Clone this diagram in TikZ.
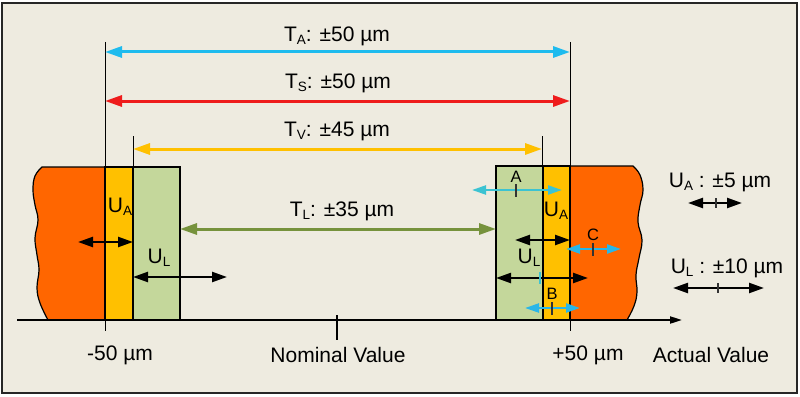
\documentclass[tikz,border=0pt]{standalone}
\usepackage{fontspec}
\setmainfont{Liberation Sans}
\usetikzlibrary{arrows.meta}
\definecolor{bg}{HTML}{EEEBE0}
\definecolor{orng}{HTML}{FF6600}
\definecolor{yel}{HTML}{FFC000}
\definecolor{lgreen}{HTML}{C4D79B}
\definecolor{cyanA}{HTML}{1EBBEE}
\definecolor{redS}{HTML}{EE1C1C}
\definecolor{greenL}{HTML}{76923C}
\definecolor{tealA}{HTML}{3CC3D2}
\definecolor{cyanB}{HTML}{29B6E8}
\newcommand\lbl[2]{#1\raisebox{-0.3ex}{\fontsize{13.5}{14}\selectfont #2}}
\begin{document}
\begin{tikzpicture}[x=1pt,y=-1pt,
  txt/.style={font=\fontsize{21}{25}\selectfont, inner sep=0pt},
  small/.style={font=\fontsize{16.5}{18}\selectfont, inner sep=0pt},
  tol/.style={line width=3pt, {Triangle[length=17pt,width=11pt]}-{Triangle[length=17pt,width=11pt]}},
  unc/.style={line width=2.3pt, {Triangle[length=15pt,width=10pt]}-{Triangle[length=15pt,width=10pt]}},
  dev/.style={line width=2.3pt, {Triangle[length=14pt,width=9pt]}-{Triangle[length=14pt,width=9pt]}},
  blk/.style={draw=black, line width=1.2pt},
  vline/.style={draw=black, line width=1pt},
  tick/.style={draw=black!80, line width=1.2pt}]
\useasboundingbox (0,0) rectangle (800,396);
\fill[white] (0,0) rectangle (800,396);
\draw[fill=bg, line width=1.5pt, draw=black!85] (2,3) rectangle (797,393);

% left block
\path[blk, fill=orng] (105,167) -- (42,167) -- plot[smooth, tension=0.7] coordinates {(42,167) (35,176) (33,190) (35,205) (38,220) (35,238) (37,255) (39,270) (37,288) (40,303) (48,320)} -- (105,320) -- cycle;
\path[blk, fill=yel] (105,167) rectangle (133,320);
\path[blk, fill=lgreen] (133,167) rectangle (180,320);

% right block
\path[blk, fill=orng] (570,166) -- (633,166) -- plot[smooth, tension=0.7] coordinates {(633,166) (640,175) (643,190) (640,205) (638,222) (642,240) (639,258) (636,275) (637,292) (634,306) (627,320)} -- (570,320) -- cycle;
\path[blk, fill=lgreen] (496,166) rectangle (543,320);
\path[blk, fill=yel] (543,166) rectangle (570,320);

% axis
\coordinate (ax0) at (17,320);
\coordinate (ax1) at (682,320);
\draw[line width=2pt, -{Triangle[length=12pt,width=7pt]}] (ax0) -- (ax1);
\draw[line width=2pt] (337,315) -- (337,340);

% vertical reference lines
\draw[vline] (105,42) -- (105,331);
\draw[vline] (570,42) -- (570,331);
\draw[vline] (133,136) -- (133,320);
\draw[vline] (542,136) -- (542,320);

% tolerance arrows
\coordinate (taL) at (105,52);  \coordinate (taR) at (570,52);
\coordinate (tsL) at (105,101); \coordinate (tsR) at (570,101);
\coordinate (tvL) at (133,149); \coordinate (tvR) at (542,149);
\coordinate (tlL) at (180,229); \coordinate (tlR) at (496,229);
\draw[tol, draw=cyanA, fill=cyanA] (taL) -- (taR);
\draw[tol, draw=redS, fill=redS] (tsL) -- (tsR);
\draw[tol, draw=yel, fill=yel] (tvL) -- (tvR);
\draw[tol, draw=greenL, fill=greenL] (tlL) -- (tlR);
\node[txt] (ta) at (337,36) {\lbl{T}{A}: ±50 µm};
\node[txt] (ts) at (338,83) {\lbl{T}{S}: ±50 µm};
\node[txt] (tv) at (337,131) {\lbl{T}{V}: ±45 µm};
\node[txt] (tl) at (342,211) {\lbl{T}{L}: ±35 µm};

% left uncertainty arrows
\coordinate (ua1) at (78,242);  \coordinate (ua2) at (133,242);
\coordinate (ul1) at (133,277); \coordinate (ul2) at (227,277);
\draw[unc] (ua1) -- (ua2);
\draw[unc] (ul1) -- (ul2);
\node[txt] (uaL) at (120,207) {\lbl{U}{A}};
\node[txt] (ulL) at (159,258) {\lbl{U}{L}};

% right uncertainty arrows
\coordinate (ra1) at (515,240); \coordinate (ra2) at (570,240);
\coordinate (rl1) at (496,278); \coordinate (rl2) at (588,278);
\draw[unc] (ra1) -- (ra2);
\draw[unc] (rl1) -- (rl2);
\draw[draw=tealA, line width=1.2pt] (540,272) -- (540,284);
\node[txt] (uaR) at (556,211) {\lbl{U}{A}};
\node[txt] (ulR) at (529,258) {\lbl{U}{L}};

% deviation arrows A, B, C
\coordinate (a1) at (472,190); \coordinate (a2) at (562,190);
\coordinate (c1) at (566,249); \coordinate (c2) at (621,249);
\coordinate (b1) at (525,308); \coordinate (b2) at (580,308);
\draw[dev, draw=tealA, fill=tealA] (a1) -- (a2);
\draw[dev, draw=cyanB, fill=cyanB] (c1) -- (c2);
\draw[dev, draw=cyanB, fill=cyanB] (b1) -- (b2);
\draw[tick] (516,184) -- (516,197);
\draw[tick] (593,243) -- (593,256);
\draw[tick] (552,302) -- (552,315);
\node[small] (la) at (516,177) {A};
\node[small] (lc) at (593,235) {C};
\node[small] (lb) at (552,294) {B};

% legend
\node[txt] (legA) at (720,182) {\lbl{U}{A} : ±5 µm};
\coordinate (lga1) at (688,203); \coordinate (lga2) at (742,203);
\draw[unc] (lga1) -- (lga2);
\draw[tick] (716,198) -- (716,208);
\node[txt] (legL) at (727,268) {\lbl{U}{L} : ±10 µm};
\coordinate (lgl1) at (673,288); \coordinate (lgl2) at (764,288);
\draw[unc] (lgl1) -- (lgl2);
\draw[tick] (718,283) -- (718,293);

% axis labels
\node[txt] (m50) at (120,355) {-50 µm};
\node[txt] (nom) at (338,355) {Nominal Value};
\node[txt] (p50) at (588,355) {+50 µm};
\node[txt] (act) at (711,355) {Actual Value};
\end{tikzpicture}
\end{document}
